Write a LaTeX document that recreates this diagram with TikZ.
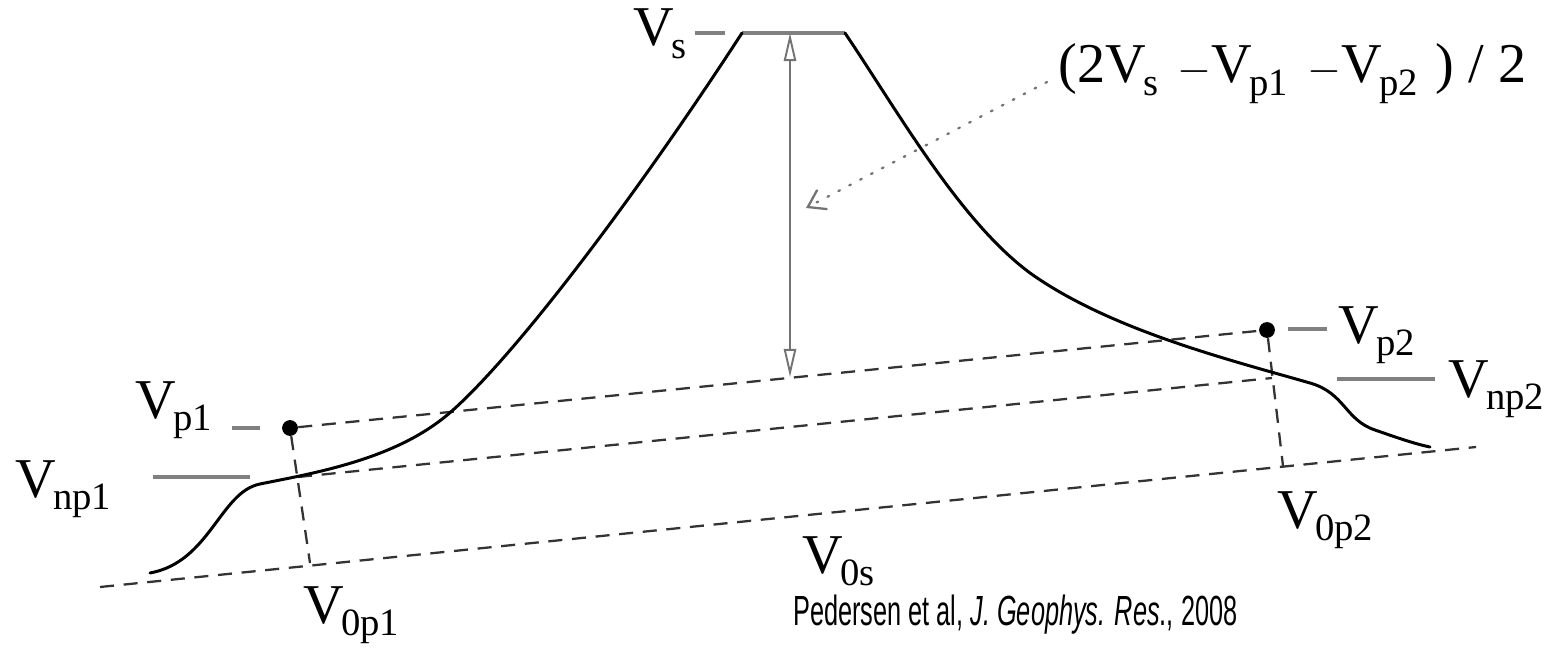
\documentclass[tikz,border=0pt]{standalone}
\usepackage{fontspec}
\setmainfont{Liberation Serif}
\newfontfamily\citefont[FakeStretch=0.6]{Liberation Sans}
\usetikzlibrary{arrows.meta}
\newcommand{\Vlab}[1]{{\fontsize{32}{36}\selectfont V\kern-1.5pt\raisebox{-7pt}{\fontsize{22}{26}\selectfont #1}}}
\begin{document}
\begin{tikzpicture}[x=0.02cm,y=-0.02cm,
  curve/.style={line width=1.7pt, black, line join=round, line cap=round},
  tickline/.style={line width=1.8pt, black!50},
  guide/.style={dash pattern=on 8pt off 5.5pt, line width=1.3pt, black!80},
  dotpt/.style={circle, fill=black, inner sep=0pt, minimum size=9pt},
  lbl/.style={anchor=base west, inner sep=0pt},
  measure/.style={line width=1.1pt, black!55},
  pointer/.style={dash pattern=on 1pt off 6pt, line width=1.3pt, black!55, line cap=round}]
\useasboundingbox (0,0) rectangle (1550,648);

% points and guide coordinates
\node[dotpt] (p1) at (290,428) {};
\node[dotpt] (p2) at (1267,330) {};
\coordinate (o1) at (310,563);
\coordinate (o2) at (1283,466);
\coordinate (n1) at (298,477);
\coordinate (n2) at (1272,378);
\coordinate (b1) at (100,587);
\coordinate (b2) at (1476,447);

% dashed guides
\draw[guide] (p1) -- (p2);
\draw[guide] (n1) -- (n2);
\draw[guide] (b1) -- (b2);
\draw[guide] (p1) -- (o1);
\draw[guide] (p2) -- (o2);

% plateau and ticks
\coordinate (topL) at (742,33);
\coordinate (topR) at (845,33);
\draw[tickline] (topL) -- (topR);
\coordinate (tsA) at (695,33); \coordinate (tsB) at (725,33);
\draw[tickline] (tsA) -- (tsB);
\coordinate (t1A) at (232,428); \coordinate (t1B) at (260,428);
\draw[tickline] (t1A) -- (t1B);
\coordinate (n1A) at (153,477); \coordinate (n1B) at (250,477);
\draw[tickline] (n1A) -- (n1B);
\coordinate (t2A) at (1288,329); \coordinate (t2B) at (1327,329);
\draw[tickline] (t2A) -- (t2B);
\coordinate (n2A) at (1337,379); \coordinate (n2B) at (1435,379);
\draw[tickline] (n2A) -- (n2B);

% profile curve
\draw[curve] (150,573) .. controls (210,562) and (220,492) .. (260,484)
  .. controls (320,472) and (400,458) .. (453,410)
  .. controls (520,350) and (640,190) .. (topL);
\draw[curve] (topR) .. controls (900,115) and (960,221) .. (1030,273)
  .. controls (1110,330) and (1230,360) .. (1310,383)
  .. controls (1345,393) and (1345,420) .. (1375,430)
  .. controls (1395,437) and (1415,444) .. (1430,447);

% measurement arrow
\coordinate (abot) at (790,377);
\coordinate (atop) at (790,33);
\draw[measure, {Triangle[open,length=16pt,width=7pt]}-{Triangle[open,length=16pt,width=7pt]}] (abot) -- (atop);

% dotted pointer
\coordinate (dstart) at (1047,82);
\coordinate (dtip) at (806,208);
\draw[pointer, -{Straight Barb[length=9pt,width=12pt,line cap=round]}] (dstart) -- (dtip);

% labels
\node[lbl] (vs) at (633,46) {\Vlab{s}};
\node[lbl] (vdiff) at (1058,83) {\fontsize{32}{36}\selectfont (2\Vlab{s}\hspace{11pt}\(-\)\Vlab{p1}\hspace{11pt}\(-\)\Vlab{p2}\hspace{10pt}) / 2};
\node[lbl] (vp1) at (135,418) {\Vlab{p1}};
\node[lbl] (vnp1) at (15,497) {\Vlab{np1}};
\node[lbl] (v0p1) at (303,623) {\Vlab{0p1}};
\node[lbl] (v0s) at (802,573) {\Vlab{0s}};
\node[lbl] (vp2) at (1338,343) {\Vlab{p2}};
\node[lbl] (vnp2) at (1448,397) {\Vlab{np2}};
\node[lbl] (v0p2) at (1277,528) {\Vlab{0p2}};
\node[lbl] (cite) at (793,625) {\citefont\fontsize{24}{28}\selectfont Pedersen et al, \textit{J. Geophys. Res}., 2008};
\end{tikzpicture}
\end{document}
